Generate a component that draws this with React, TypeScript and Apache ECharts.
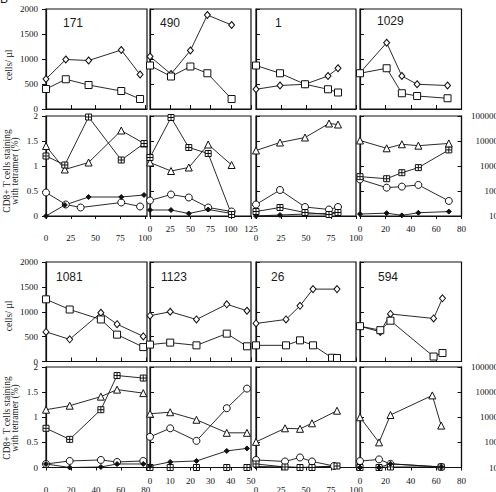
import React, { useEffect, useRef } from 'react';
import * as echarts from 'echarts';

// ---- Panel identifiers -------------------------------------------------
const topPatients = ['171', '490', '1', '1029'];
const bottomPatients = ['1081', '1123', '26', '594'];

// ---- x-axis ranges and tick steps (days) ------------------------------
const xMaxTop = [102, 125, 100, 80];
const xStepTop = [25, 25, 25, 20];
const xMaxBottom = [81, 50, 100, 80];
const xStepBottom = [20, 10, 25, 20];

// ---- y-axis tick labels ------------------------------------------------
const countTicks = [0, 500, 1000, 1500, 2000];
const percentTicks = [0, 0.5, 1, 1.5, 2];
const logTicks = [10, 100, 1000, 10000, 100000];

// ---- Patient 171 -------------------------------------------------------
const p171CountDays = [0, 20, 43, 76, 95];
const p171Diamonds = [600, 990, 970, 1180, 690];
const p171Squares = [400, 595, 480, 360, 200];
const p171TetDays = [0, 19, 43, 76, 99];
const p171Triangles = [1.4, 0.93, 1.07, 1.71, 1.45];
const p171GridSquares = [1.2, 1.02, 1.98, 1.12, 1.45];
const p171CircleDays = [0, 20, 35, 76, 95];
const p171Circles = [0.47, 0.23, 0.17, 0.27, 0.19];
const p171Dots = [0, 0.22, 0.38, 0.38, 0.42];

// ---- Patient 490 -------------------------------------------------------
const p490CountDays = [0, 26, 50, 71, 101];
const p490Diamonds = [1050, 700, 1170, 1880, 1680];
const p490Squares = [870, 650, 850, 715, 200];
const p490TetDays = [0, 26, 48, 72, 101];
const p490GridSquares = [1.17, 1.97, 1.37, 1.25, 0.03];
const p490Triangles = [1.07, 0.9, 0.97, 1.43, 1.02];
const p490Circles = [0.31, 0.43, 0.37, 0.17, 0.09];
const p490Dots = [0.12, 0.12, 0.05, 0.13, 0.05];

// ---- Patient 1 ---------------------------------------------------------
const p1CountDays = [0, 24, 49, 72, 82];
const p1Squares = [870, 715, 495, 395, 330];
const p1Diamonds = [395, 470, 495, 660, 815];
const p1TetDays = [0, 24, 49, 73, 82];
const p1Triangles = [1.31, 1.47, 1.57, 1.85, 1.83];
const p1Circles = [0.23, 0.52, 0.18, 0.13, 0.18];
const p1GridSquares = [0.09, 0.17, 0.07, 0.03, 0.07];
const p1Dots = [0, 0.02, 0.04, 0.05, 0.09];

// ---- Patient 1029 (tetramer data on log scale) --------------------------
const p1029CountDays = [0, 21, 33, 45, 69];
const p1029Squares = [715, 815, 315, 260, 215];
const p1029Diamonds = [725, 1325, 660, 495, 470];
const p1029TetDays = [0, 21, 33, 46, 70];
const p1029Triangles = [10500, 5100, 7400, 6500, 8000];
const p1029GridSquares = [375, 310, 540, 860, 4400];
const p1029Circles = [290, 136, 150, 175, 40];
const p1029Dots = [12, 13, 10.6, 13.5, 15];

// ---- Patient 1081 ------------------------------------------------------
const p1081Days = [0, 19, 44, 57, 78];
const p1081Squares = [1250, 1045, 845, 540, 290];
const p1081Diamonds = [595, 445, 980, 750, 505];
const p1081Triangles = [1.15, 1.23, 1.41, 1.55, 1.48];
const p1081GridSquares = [0.78, 0.56, 1.15, 1.83, 1.78];
const p1081Circles = [0.07, 0.13, 0.15, 0.11, 0.13];
const p1081Dots = [0.07, 0.0, 0.01, 0.07, 0.07];

// ---- Patient 1123 ------------------------------------------------------
const p1123Days = [0, 10, 23, 38, 48];
const p1123Diamonds = [920, 1000, 845, 1150, 1020];
const p1123Squares = [340, 380, 325, 560, 305];
const p1123Triangles = [1.07, 1.1, 0.95, 0.69, 0.69];
const p1123Circles = [0.61, 0.78, 0.53, 1.18, 1.57];
const p1123Dots = [0.03, 0.11, 0.13, 0.33, 0.38];
const p1123GridSquares = [0, 0, 0, 0, 0];

// ---- Patient 26 --------------------------------------------------------
const p26DiamondDays = [0, 30, 44, 57, 81];
const p26Diamonds = [765, 845, 1120, 1455, 1455];
const p26SquareDays = [0, 30, 44, 57, 76, 81];
const p26Squares = [325, 325, 425, 325, 75, 70];
const p26TetDays = [0, 29, 44, 56, 81];
const p26Triangles = [0.51, 0.78, 0.77, 0.88, 1.13];
const p26GridSquares = [0.07, 0.01, 0, 0, 0.03];
const p26Dots = [0.02, 0.01, 0, 0.01, 0.03];
const p26CircleDays = [0, 29, 44, 56, 78];
const p26Circles = [0.15, 0.12, 0.2, 0.12, 0.03];

// ---- Patient 594 (tetramer data on log scale) ---------------------------
const p594Days = [0, 16, 24, 58, 65];
const p594Squares = [710, 630, 820, 100, 170];
const p594Diamonds = [710, 595, 955, 865, 1270];
const p594TetDays = [0, 15, 24, 57, 64];
const p594Triangles = [1000, 100, 1230, 7400, 465];
const p594LowDays = [0, 15, 24, 64];
const p594Circles = [18, 21, 14, 10.5];
const p594GridSquares = [10, 10, 10.5, 10.5];
const p594Dots = [10, 10, 14, 10.5];

// ---- Layout ------------------------------------------------------------
const ROWS = [
  { top: 9, height: 100 },
  { top: 116, height: 100 },
  { top: 262, height: 99.5 },
  { top: 367, height: 100.5 },
];
const COLS = [
  { left: 46, width: 101 },
  { left: 150, width: 101 },
  { left: 256, width: 100 },
  { left: 360, width: 101.5 },
];
const TITLE_POS = [
  [63, 23], [160, 23], [275, 23], [377, 21],
  [56, 277], [161, 277], [271, 277], [378, 277],
];

const SERIF = "'Liberation Serif', 'Times New Roman', serif";
const SANS = "'Liberation Sans', Arial, sans-serif";
const INK = '#111';

type Kind = 'diamond' | 'square' | 'triangle' | 'gridSquare' | 'circle' | 'dot';

const MARKERS: Record<Kind, { symbol: string; size: number | number[]; fill: string }> = {
  diamond: { symbol: 'diamond', size: [6, 7], fill: '#fff' },
  square: { symbol: 'rect', size: 7, fill: '#fff' },
  triangle: { symbol: 'triangle', size: 7, fill: '#fff' },
  gridSquare: { symbol: 'path://M0 0H10V10H0Z M5 0V10 M0 5H10', size: 6, fill: '#fff' },
  circle: { symbol: 'circle', size: 7, fill: '#fff' },
  dot: { symbol: 'diamond', size: 5, fill: '#111' },
};

type S = { kind: Kind; days: number[]; values: number[] };
type Panel = { row: number; col: number; log?: boolean; series: S[] };

const panels: Panel[] = [
  { row: 0, col: 0, series: [
    { kind: 'diamond', days: p171CountDays, values: p171Diamonds },
    { kind: 'square', days: p171CountDays, values: p171Squares },
  ] },
  { row: 0, col: 1, series: [
    { kind: 'diamond', days: p490CountDays, values: p490Diamonds },
    { kind: 'square', days: p490CountDays, values: p490Squares },
  ] },
  { row: 0, col: 2, series: [
    { kind: 'diamond', days: p1CountDays, values: p1Diamonds },
    { kind: 'square', days: p1CountDays, values: p1Squares },
  ] },
  { row: 0, col: 3, series: [
    { kind: 'diamond', days: p1029CountDays, values: p1029Diamonds },
    { kind: 'square', days: p1029CountDays, values: p1029Squares },
  ] },
  { row: 1, col: 0, series: [
    { kind: 'circle', days: p171CircleDays, values: p171Circles },
    { kind: 'dot', days: p171TetDays, values: p171Dots },
    { kind: 'triangle', days: p171TetDays, values: p171Triangles },
    { kind: 'gridSquare', days: p171TetDays, values: p171GridSquares },
  ] },
  { row: 1, col: 1, series: [
    { kind: 'circle', days: p490TetDays, values: p490Circles },
    { kind: 'dot', days: p490TetDays, values: p490Dots },
    { kind: 'triangle', days: p490TetDays, values: p490Triangles },
    { kind: 'gridSquare', days: p490TetDays, values: p490GridSquares },
  ] },
  { row: 1, col: 2, series: [
    { kind: 'circle', days: p1TetDays, values: p1Circles },
    { kind: 'dot', days: p1TetDays, values: p1Dots },
    { kind: 'gridSquare', days: p1TetDays, values: p1GridSquares },
    { kind: 'triangle', days: p1TetDays, values: p1Triangles },
  ] },
  { row: 1, col: 3, log: true, series: [
    { kind: 'circle', days: p1029TetDays, values: p1029Circles },
    { kind: 'dot', days: p1029TetDays, values: p1029Dots },
    { kind: 'gridSquare', days: p1029TetDays, values: p1029GridSquares },
    { kind: 'triangle', days: p1029TetDays, values: p1029Triangles },
  ] },
  { row: 2, col: 0, series: [
    { kind: 'diamond', days: p1081Days, values: p1081Diamonds },
    { kind: 'square', days: p1081Days, values: p1081Squares },
  ] },
  { row: 2, col: 1, series: [
    { kind: 'diamond', days: p1123Days, values: p1123Diamonds },
    { kind: 'square', days: p1123Days, values: p1123Squares },
  ] },
  { row: 2, col: 2, series: [
    { kind: 'diamond', days: p26DiamondDays, values: p26Diamonds },
    { kind: 'square', days: p26SquareDays, values: p26Squares },
  ] },
  { row: 2, col: 3, series: [
    { kind: 'diamond', days: p594Days, values: p594Diamonds },
    { kind: 'square', days: p594Days, values: p594Squares },
  ] },
  { row: 3, col: 0, series: [
    { kind: 'circle', days: p1081Days, values: p1081Circles },
    { kind: 'dot', days: p1081Days, values: p1081Dots },
    { kind: 'triangle', days: p1081Days, values: p1081Triangles },
    { kind: 'gridSquare', days: p1081Days, values: p1081GridSquares },
  ] },
  { row: 3, col: 1, series: [
    { kind: 'gridSquare', days: p1123Days, values: p1123GridSquares },
    { kind: 'dot', days: p1123Days, values: p1123Dots },
    { kind: 'triangle', days: p1123Days, values: p1123Triangles },
    { kind: 'circle', days: p1123Days, values: p1123Circles },
  ] },
  { row: 3, col: 2, series: [
    { kind: 'circle', days: p26CircleDays, values: p26Circles },
    { kind: 'dot', days: p26TetDays, values: p26Dots },
    { kind: 'gridSquare', days: p26TetDays, values: p26GridSquares },
    { kind: 'triangle', days: p26TetDays, values: p26Triangles },
  ] },
  { row: 3, col: 3, log: true, series: [
    { kind: 'circle', days: p594LowDays, values: p594Circles },
    { kind: 'gridSquare', days: p594LowDays, values: p594GridSquares },
    { kind: 'dot', days: p594LowDays, values: p594Dots },
    { kind: 'triangle', days: p594TetDays, values: p594Triangles },
  ] },
];

function stepValues(max: number, step: number): number[] {
  const out: number[] = [];
  for (let v = 0; v <= max + 1e-9; v += step) out.push(v);
  return out;
}

function buildOption() {
  const grid: any[] = [];
  const xAxis: any[] = [];
  const yAxis: any[] = [];
  const series: any[] = [];
  const graphic: any[] = [];
  const logAxisIndex: Record<number, number> = {};

  for (let r = 0; r < 4; r++) {
    for (let c = 0; c < 4; c++) {
      const g = r * 4 + c;
      const isCount = r % 2 === 0;
      const topBlock = r < 2;
      grid.push({
        left: COLS[c].left,
        top: ROWS[r].top,
        width: COLS[c].width,
        height: ROWS[r].height,
        show: true,
        borderColor: INK,
        borderWidth: 1.2,
        backgroundColor: 'transparent',
        containLabel: false,
        outerBoundsMode: 'none',
      });
      const xMax = topBlock ? xMaxTop[c] : xMaxBottom[c];
      const xStep = topBlock ? xStepTop[c] : xStepBottom[c];
      const ticks = stepValues(xMax, xStep);
      xAxis.push({
        type: 'value',
        gridIndex: g,
        min: 0,
        max: xMax,
        axisLine: { show: true, onZero: false, lineStyle: { color: INK, width: 1.2 } },
        axisTick: {
          show: true,
          inside: isCount,
          length: isCount ? 4 : 3,
          customValues: ticks,
          lineStyle: { color: INK, width: 1 },
        },
        axisLabel: {
          show: !isCount,
          customValues: ticks,
          formatter: (v: number) => String(v),
          margin: c % 2 === 0 ? 17.5 : 8.5,
          fontFamily: SERIF,
          fontSize: 9,
          color: INK,
        },
        splitLine: { show: false },
      });
      yAxis.push({
        type: 'value',
        gridIndex: g,
        position: 'left',
        min: 0,
        max: isCount ? 2000 : 2,
        interval: isCount ? 500 : 0.5,
        axisLine: { show: true, onZero: false, lineStyle: { color: INK, width: 1.2 } },
        axisTick: {
          show: true,
          inside: c !== 0,
          length: 4,
          customValues: isCount ? countTicks : percentTicks,
          lineStyle: { color: INK, width: 1 },
        },
        axisLabel: {
          show: c === 0,
          customValues: isCount ? countTicks : percentTicks,
          formatter: (v: number) => String(v),
          margin: 8,
          fontFamily: SERIF,
          fontSize: 9,
          color: INK,
        },
        splitLine: { show: false },
      });
    }
  }

  // Log-scale axes on the right of the last tetramer panels
  [7, 15].forEach((g) => {
    logAxisIndex[g] = yAxis.length;
    yAxis.push({
      type: 'log',
      logBase: 10,
      gridIndex: g,
      position: 'right',
      min: 10,
      max: 100000,
      axisLine: { show: true, onZero: false, lineStyle: { color: INK, width: 1.2 } },
      axisTick: { show: true, inside: true, length: 4, customValues: logTicks, lineStyle: { color: INK, width: 1 } },
      axisLabel: {
        show: true,
        customValues: logTicks,
        formatter: (v: number) => String(Math.round(v)),
        align: 'right',
        margin: 36.5,
        fontFamily: SERIF,
        fontSize: 9,
        color: INK,
      },
      minorTick: { show: false },
      splitLine: { show: false },
    });
  });

  panels.forEach((p) => {
    const g = p.row * 4 + p.col;
    p.series.forEach((s) => {
      const m = MARKERS[s.kind];
      series.push({
        type: 'line',
        xAxisIndex: g,
        yAxisIndex: p.log ? logAxisIndex[g] : g,
        data: s.days.map((d, i) => [d, s.values[i]]),
        symbol: m.symbol,
        symbolSize: m.size,
        showSymbol: true,
        showAllSymbol: true,
        clip: false,
        silent: true,
        lineStyle: { color: INK, width: 0.9 },
        itemStyle: { color: m.fill, borderColor: INK, borderWidth: 1, opacity: 1 },
        emphasis: { disabled: true },
      });
    });
  });

  // Panel titles
  const titles = [...topPatients, ...bottomPatients];
  titles.forEach((t, i) => {
    graphic.push({
      type: 'text',
      x: TITLE_POS[i][0],
      y: TITLE_POS[i][1],
      silent: true,
      style: { text: t, fontFamily: SANS, fontSize: 12, fill: '#1a1a1a', verticalAlign: 'middle', align: 'left' },
    });
  });

  // Figure letter
  graphic.push({
    type: 'text',
    x: 0,
    y: 5,
    silent: true,
    style: { text: 'B', fontFamily: SANS, fontSize: 12, fill: '#1a1a1a', verticalAlign: 'bottom', align: 'left' },
  });

  // Rotated axis names
  [[9, 65], [9, 316]].forEach(([x, y]) => {
    graphic.push({
      type: 'text',
      x,
      y,
      rotation: Math.PI / 2,
      silent: true,
      style: { text: 'cells/ µl', fontFamily: SERIF, fontSize: 9.5, fill: '#222', align: 'center', verticalAlign: 'middle' },
    });
  });
  [[11, 171], [11, 418]].forEach(([x, y]) => {
    graphic.push({
      type: 'text',
      x,
      y,
      rotation: Math.PI / 2,
      silent: true,
      style: {
        text: 'CD8+ T cells staining\nwith tetramer (%)',
        fontFamily: SERIF,
        fontSize: 9.5,
        lineHeight: 8,
        fill: '#222',
        align: 'center',
        verticalAlign: 'middle',
      },
    });
  });

  return {
    animation: false,
    backgroundColor: '#fff',
    grid,
    xAxis,
    yAxis,
    series,
    graphic,
  };
}

export default function App() {
  const ref = useRef<HTMLDivElement>(null);
  useEffect(() => {
    if (!ref.current) return;
    const chart = echarts.init(ref.current, null, { renderer: 'svg' });
    chart.setOption(buildOption() as any);
    return () => chart.dispose();
  }, []);
  return (
    <div
      ref={ref}
      style={{ position: 'fixed', left: 0, top: 0, width: 496, height: 492, background: '#fff' }}
    />
  );
}
